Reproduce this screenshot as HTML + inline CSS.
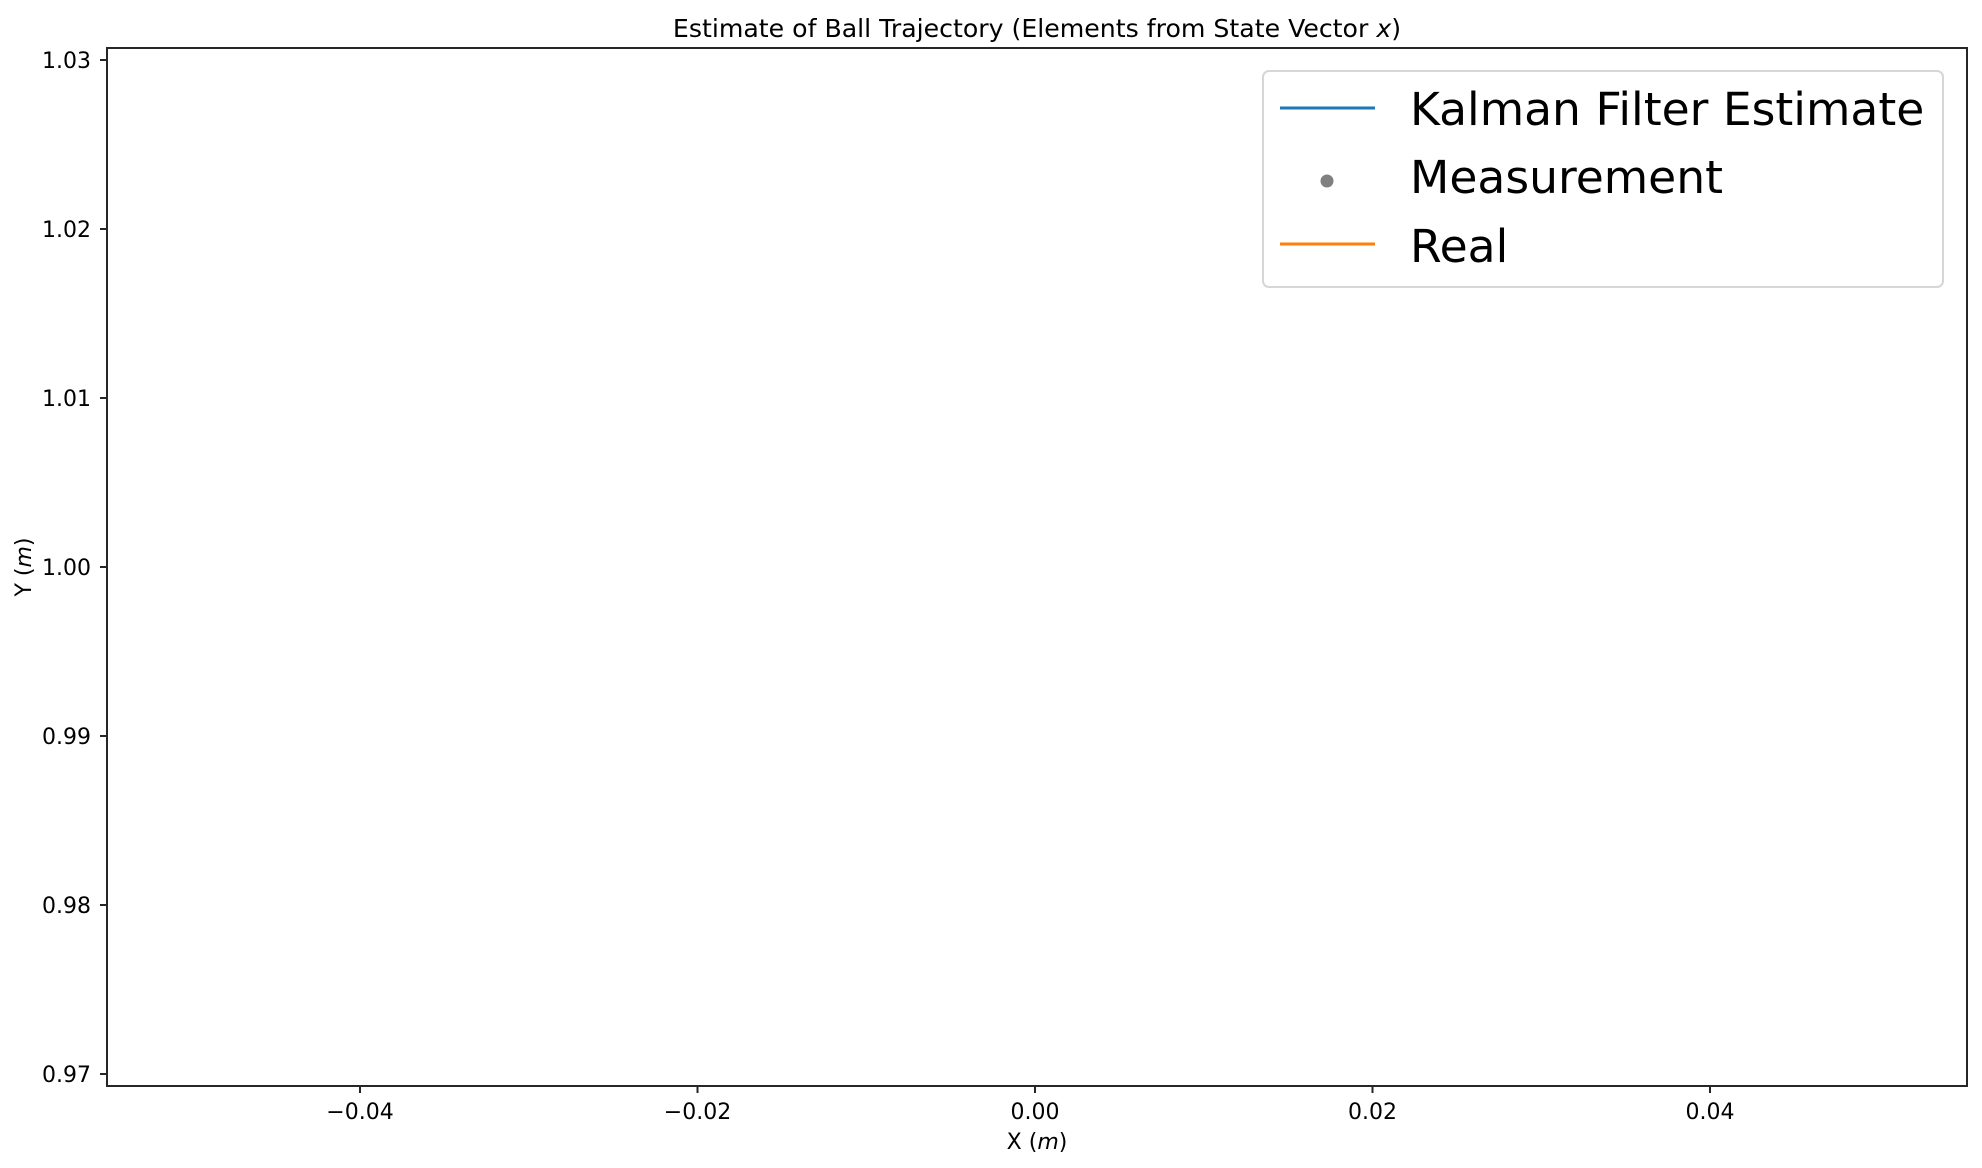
<!DOCTYPE html>
<html><head><meta charset="utf-8"><style>
html,body{margin:0;padding:0;background:#fff;}
svg{display:block;font-family:"DejaVu Sans","Liberation Sans",sans-serif;}
</style></head><body>
<svg id="chart" width="1982" height="1168" viewBox="0 0 1982 1168">
<rect x="0" y="0" width="1982" height="1168" fill="#fff"/>
<text x="1037" y="37" font-size="25.2" text-anchor="middle" fill="#000">Estimate of Ball Trajectory (Elements from State Vector <tspan font-style="italic">x</tspan>)</text>
<g id="yticks"></g>
<g id="xticks"></g>
<rect x="107" y="48" width="1860" height="1038" fill="none" stroke="#262626" stroke-width="2"/>
<text x="1037" y="1149" font-size="22" text-anchor="middle">X (<tspan font-style="italic">m</tspan>)</text>
<text x="0" y="0" font-size="22" text-anchor="middle" transform="translate(31,567) rotate(-90)">Y (<tspan font-style="italic">m</tspan>)</text>
<g>
<rect x="1263" y="71" width="680" height="216" rx="6" fill="#fff" stroke="#d6d6d6" stroke-width="2"/>
<line x1="1280" y1="108" x2="1375" y2="108" stroke="#1f77b4" stroke-width="3"/>
<text x="1410" y="125" font-size="45.6">Kalman Filter Estimate</text>
<circle cx="1327" cy="181" r="6.5" fill="#808080"/>
<text x="1410" y="193" font-size="45.6">Measurement</text>
<line x1="1280" y1="244" x2="1375" y2="244" stroke="#ff7f0e" stroke-width="3"/>
<text x="1410" y="262" font-size="45.6">Real</text>
</g>
</svg>
<script>
const yTickValues = [0.97, 0.98, 0.99, 1.00, 1.01, 1.02, 1.03];
const yTickLabels = ["0.97", "0.98", "0.99", "1.00", "1.01", "1.02", "1.03"];
const xTickValues = [-0.04, -0.02, 0.00, 0.02, 0.04];
const xTickLabels = ["\u22120.04", "\u22120.02", "0.00", "0.02", "0.04"];
const kalmanX = [];
const kalmanY = [];
const measX = [];
const measY = [];
const realX = [];
const realY = [];

const NS = "http://www.w3.org/2000/svg";
function yScale(v){ return 60 + (1.03 - v) / 0.01 * 169; }
function xScale(v){ return 1035 + v / 0.02 * 337.5; }

const yg = document.getElementById('yticks');
yTickValues.forEach((v, i) => {
  const y = yScale(v);
  const l = document.createElementNS(NS, 'line');
  l.setAttribute('x1', 100); l.setAttribute('x2', 107);
  l.setAttribute('y1', y); l.setAttribute('y2', y);
  l.setAttribute('stroke', '#262626'); l.setAttribute('stroke-width', 2);
  
  
  yg.appendChild(l);
  const t = document.createElementNS(NS, 'text');
  t.setAttribute('x', 91); t.setAttribute('y', y + 8);
  t.setAttribute('font-size', 22); t.setAttribute('text-anchor', 'end');
  t.textContent = yTickLabels[i];
  
  
  yg.appendChild(t);
});
const xg = document.getElementById('xticks');
xTickValues.forEach((v, i) => {
  const x = xScale(v);
  const l = document.createElementNS(NS, 'line');
  l.setAttribute('x1', x); l.setAttribute('x2', x);
  l.setAttribute('y1', 1086); l.setAttribute('y2', 1093);
  l.setAttribute('stroke', '#262626'); l.setAttribute('stroke-width', 2);
  
  
  xg.appendChild(l);
  const t = document.createElementNS(NS, 'text');
  t.setAttribute('x', x); t.setAttribute('y', 1119);
  t.setAttribute('font-size', 22); t.setAttribute('text-anchor', 'middle');
  t.textContent = xTickLabels[i];
  
  
  xg.appendChild(t);
});
const svg = document.getElementById('chart');
function addLine(xs, ys, color, name){
  if (!xs.length) return;
  const p = document.createElementNS(NS, 'polyline');
  p.setAttribute('points', xs.map((x, i) => xScale(x) + ',' + yScale(ys[i])).join(' '));
  p.setAttribute('fill', 'none'); p.setAttribute('stroke', color); p.setAttribute('stroke-width', 3);
  
  
  svg.appendChild(p);
}
addLine(kalmanX, kalmanY, '#1f77b4', 'kalman-line');
addLine(realX, realY, '#ff7f0e', 'real-line');
measX.forEach((x, i) => {
  const c = document.createElementNS(NS, 'circle');
  c.setAttribute('cx', xScale(x)); c.setAttribute('cy', yScale(measY[i])); c.setAttribute('r', 6.5);
  c.setAttribute('fill', '#808080');
  
  
  svg.appendChild(c);
});
</script>
</body></html>
